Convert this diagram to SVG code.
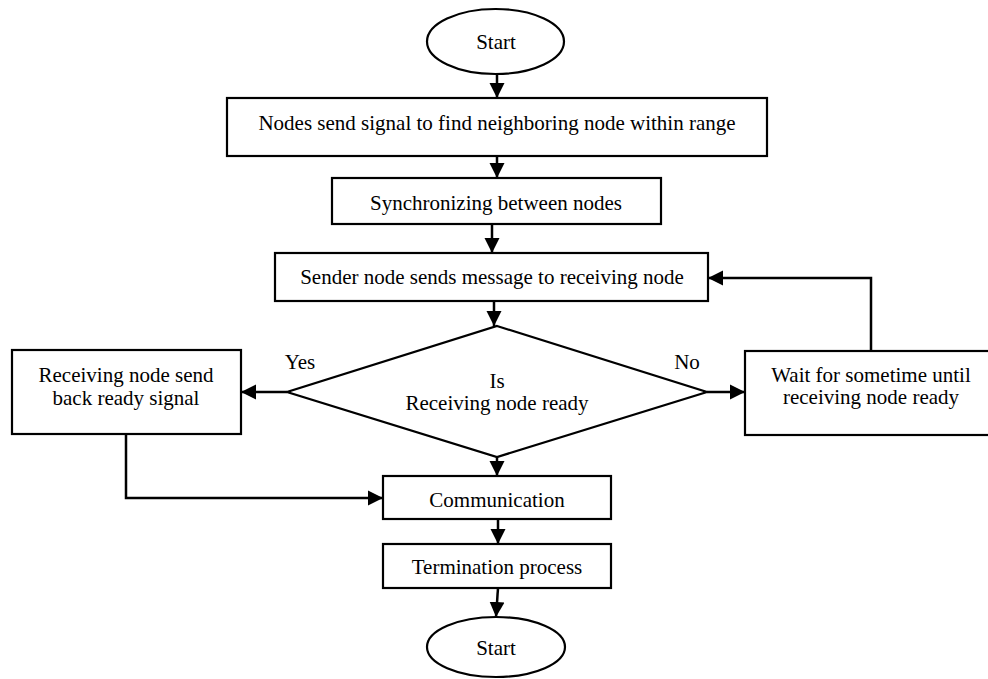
<svg xmlns="http://www.w3.org/2000/svg" width="988" height="679" viewBox="0 0 988 679">
<defs>
<marker id="ah" markerUnits="userSpaceOnUse" markerWidth="16" markerHeight="16" refX="15" refY="7.5" orient="auto" viewBox="0 0 16 15">
<path d="M0,0 L15,7.5 L0,15 z" fill="#000"/>
</marker>
<style>
.box{fill:#fff;stroke:#000;stroke-width:2.2}
.term{fill:#fff;stroke:#000;stroke-width:2.2}
.con{fill:none;stroke:#000;stroke-width:2.5;marker-end:url(#ah)}
.line{fill:none;stroke:#000;stroke-width:2.5}
text{font-family:"Liberation Serif","Times New Roman",serif;font-size:21px;fill:#000;text-anchor:middle}
</style>
</defs>
<rect width="988" height="679" fill="#fff"/>

<g id="connectors">
<path class="con" d="M497,74 L497,98"/>
<path class="con" d="M497,156 L497,178"/>
<path class="con" d="M492,224 L492,253"/>
<path class="con" d="M494,301 L494,326"/>
<path class="con" d="M287,392 L241,392"/>
<path class="con" d="M707,392 L745,392"/>
<path class="con" d="M871,351 L871,278 L708,278"/>
<path class="con" d="M497,457 L497,476"/>
<path class="con" d="M126,434 L126,498 L383,498"/>
<path class="con" d="M498,519 L498,544"/>
<path class="con" d="M498,588 L496,617"/>
</g>

<g id="start">
<ellipse class="term" cx="495.5" cy="41.5" rx="68.5" ry="32.5"/>
<text x="496" y="49">Start</text>
</g>

<g id="find-neighbors">
<rect class="box" x="227" y="98" width="540" height="58"/>
<text x="497" y="130">Nodes send signal to find neighboring node within range</text>
</g>

<g id="synchronize">
<rect class="box" x="332" y="178" width="329" height="46"/>
<text x="496" y="210">Synchronizing between nodes</text>
</g>

<g id="send-message">
<rect class="box" x="275" y="253" width="433" height="48"/>
<text x="492" y="284">Sender node sends message to receiving node</text>
</g>

<g id="decision">
<polygon class="box" points="497,326 707,392 497,457 287,392"/>
<text x="497" y="388">Is</text>
<text x="497" y="410">Receiving node ready</text>
<text x="300" y="369">Yes</text>
<text x="687" y="369">No</text>
</g>

<g id="ready-signal">
<rect class="box" x="12" y="350" width="229" height="84"/>
<text x="126" y="382">Receiving node send</text>
<text x="126" y="405">back ready signal</text>
</g>

<g id="wait">
<rect class="box" x="745" y="351" width="252" height="84"/>
<text x="871" y="382">Wait for sometime until</text>
<text x="871" y="404">receiving node ready</text>
</g>

<g id="communication">
<rect class="box" x="383" y="476" width="228" height="43"/>
<text x="497" y="507">Communication</text>
</g>

<g id="termination">
<rect class="box" x="383" y="544" width="228" height="44"/>
<text x="497" y="574">Termination process</text>
</g>

<g id="end">
<ellipse class="term" cx="496" cy="647" rx="69" ry="30"/>
<text x="496" y="655">Start</text>
</g>
</svg>
